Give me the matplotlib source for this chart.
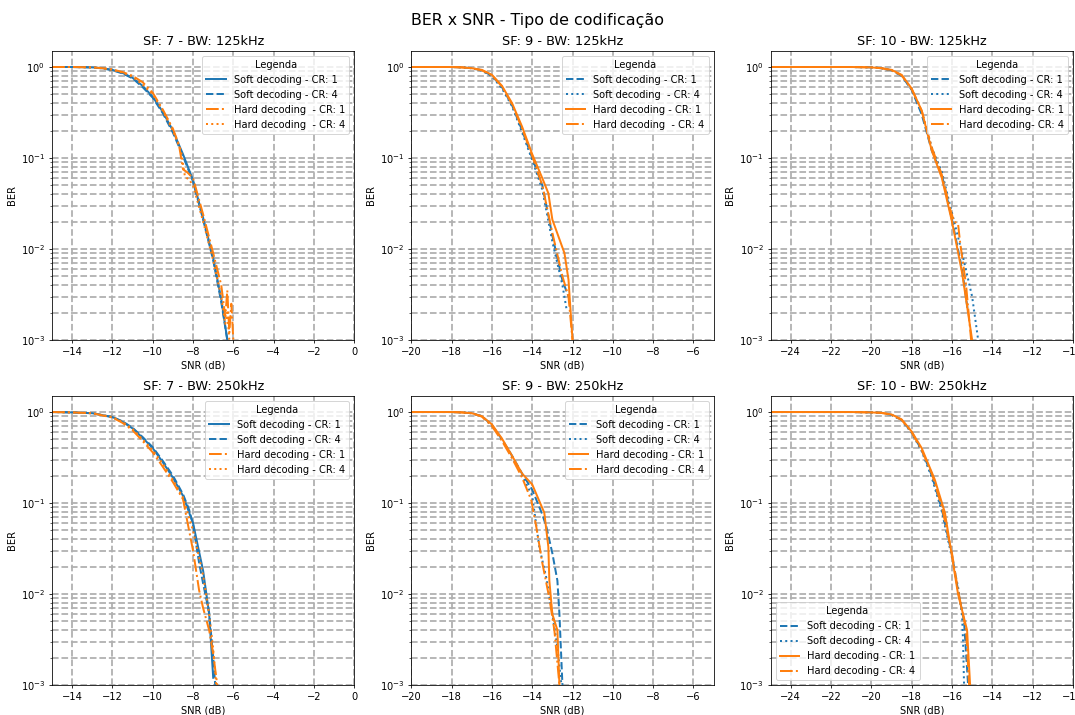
import numpy as np
import matplotlib.pyplot as plt

# ---- SF7 / 125 kHz ----
snr_7_125_s1 = [-15, -14, -13, -12.5, -12, -11.5, -11, -10.5, -10, -9.5, -9, -8.5, -8, -7.5, -7, -6.6, -6.3]
ber_7_125_s1 = [1.0, 1.0, 0.99, 0.97, 0.93, 0.86, 0.76, 0.62, 0.47, 0.32, 0.2, 0.11, 0.057, 0.022, 0.008, 0.0028, 0.001]
snr_7_125_s4 = [-15, -14, -13, -12.5, -12, -11.5, -11, -10.5, -10, -9.5, -9, -8.5, -8, -7.5, -7, -6.6, -6.3]
ber_7_125_s4 = [1.0, 1.0, 0.99, 0.965, 0.92, 0.85, 0.75, 0.6, 0.46, 0.31, 0.19, 0.105, 0.055, 0.021, 0.0075, 0.0026, 0.001]
snr_7_125_h1 = [-15, -14, -13, -12.5, -12, -11.5, -11, -10.5, -10, -9.5, -9, -8.7, -8.5, -8.3, -8, -7.5, -7, -6.6, -6.4, -6.3, -6.2, -6.1, -6.0]
ber_7_125_h1 = [1.0, 1.0, 0.99, 0.97, 0.94, 0.88, 0.8, 0.68, 0.52, 0.34, 0.21, 0.14, 0.075, 0.07, 0.06, 0.024, 0.009, 0.004, 0.0018, 0.0035, 0.0012, 0.0025, 0.001]
snr_7_125_h4 = [-15, -14, -13, -12.5, -12, -11.5, -11, -10.5, -10, -9.5, -9, -8.6, -8.4, -8.2, -8, -7.5, -7, -6.6, -6.4, -6.3, -6.2]
ber_7_125_h4 = [1.0, 1.0, 0.99, 0.97, 0.93, 0.87, 0.78, 0.64, 0.5, 0.33, 0.2, 0.12, 0.062, 0.058, 0.05, 0.02, 0.0075, 0.003, 0.0015, 0.002, 0.001]

# ---- SF9 / 125 kHz ----
snr_9_125_s1 = [-20, -19, -18, -17.5, -17, -16.5, -16, -15.5, -15, -14.5, -14, -13.5, -13, -12.5, -12.2]
ber_9_125_s1 = [1.0, 1.0, 1.0, 0.99, 0.97, 0.92, 0.8, 0.6, 0.38, 0.2, 0.1, 0.05, 0.014, 0.0045, 0.003]
snr_9_125_s4 = [-20, -19, -18, -17.5, -17, -16.5, -16, -15.5, -15, -14.5, -14, -13.5, -13, -12.5, -12.3]
ber_9_125_s4 = [1.0, 1.0, 1.0, 0.99, 0.97, 0.91, 0.79, 0.58, 0.37, 0.19, 0.095, 0.045, 0.012, 0.004, 0.0022]
snr_9_125_h1 = [-20, -19, -18, -17.5, -17, -16.5, -16, -15.5, -15, -14.5, -14, -13.5, -13.2, -13, -12.4, -12.2, -12]
ber_9_125_h1 = [1.0, 1.0, 1.0, 0.99, 0.97, 0.93, 0.82, 0.62, 0.4, 0.22, 0.11, 0.06, 0.041, 0.021, 0.009, 0.0046, 0.001]
snr_9_125_h4 = [-20, -19, -18, -17.5, -17, -16.5, -16, -15.5, -15, -14.5, -14, -13.5, -13, -12.5, -12.2, -12]
ber_9_125_h4 = [1.0, 1.0, 1.0, 0.99, 0.97, 0.92, 0.81, 0.61, 0.39, 0.21, 0.105, 0.05, 0.015, 0.005, 0.003, 0.001]

# ---- SF10 / 125 kHz ----
snr_10_125_s1 = [-25, -23, -21, -20, -19.5, -19, -18.5, -18, -17.5, -17, -16.5, -16, -15.5, -15.2]
ber_10_125_s1 = [1.0, 1.0, 1.0, 0.99, 0.97, 0.92, 0.8, 0.56, 0.3, 0.12, 0.065, 0.021, 0.006, 0.002]
snr_10_125_s4 = [-25, -23, -21, -20, -19.5, -19, -18.5, -18, -17.5, -17, -16.5, -16, -15.5, -15, -14.7]
ber_10_125_s4 = [1.0, 1.0, 1.0, 0.99, 0.97, 0.92, 0.8, 0.57, 0.32, 0.13, 0.07, 0.025, 0.009, 0.003, 0.001]
snr_10_125_h1 = [-25, -23, -21, -20, -19.5, -19, -18.5, -18, -17.5, -17, -16.5, -16, -15.5, -15]
ber_10_125_h1 = [1.0, 1.0, 1.0, 0.99, 0.97, 0.93, 0.82, 0.58, 0.33, 0.12, 0.06, 0.02, 0.0055, 0.001]
snr_10_125_h4 = [-25, -23, -21, -20, -19.5, -19, -18.5, -18, -17.5, -17, -16.5, -16.1, -15.9, -15.7, -15.6, -15.3, -15.05]
ber_10_125_h4 = [1.0, 1.0, 1.0, 0.99, 0.97, 0.92, 0.81, 0.57, 0.33, 0.13, 0.065, 0.028, 0.02, 0.019, 0.012, 0.004, 0.001]

# ---- SF7 / 250 kHz ----
snr_7_250_s1 = [-15, -14, -13, -12, -11.5, -11, -10.5, -10, -9.5, -9, -8.5, -8, -7.5, -7.2, -7]
ber_7_250_s1 = [1.0, 0.99, 0.97, 0.88, 0.78, 0.66, 0.52, 0.4, 0.28, 0.19, 0.12, 0.06, 0.018, 0.006, 0.0012]
snr_7_250_s4 = [-15, -14, -13, -12, -11.5, -11, -10.5, -10, -9.5, -9, -8.5, -8.2, -8, -7.7, -7.5, -7.2, -7, -6.9]
ber_7_250_s4 = [1.0, 0.99, 0.97, 0.88, 0.79, 0.67, 0.53, 0.41, 0.29, 0.2, 0.125, 0.085, 0.058, 0.022, 0.013, 0.0062, 0.002, 0.001]
snr_7_250_h1 = [-15, -14, -13, -12, -11.5, -11, -10.5, -10, -9.5, -9, -8.5, -8, -7.7, -7.5, -7.2, -7, -6.8]
ber_7_250_h1 = [1.0, 0.99, 0.97, 0.87, 0.76, 0.63, 0.48, 0.36, 0.25, 0.17, 0.11, 0.03, 0.011, 0.007, 0.004, 0.0022, 0.001]
snr_7_250_h4 = [-15, -14, -13, -12, -11.5, -11, -10.5, -10, -9.5, -9, -8.5, -8, -7.5, -7.2, -7, -6.85]
ber_7_250_h4 = [1.0, 0.99, 0.97, 0.88, 0.78, 0.65, 0.5, 0.38, 0.27, 0.18, 0.115, 0.05, 0.016, 0.006, 0.0025, 0.001]

# ---- SF9 / 250 kHz ----
snr_9_250_s1 = [-20, -19, -18, -17.5, -17, -16.5, -16, -15.5, -15, -14.5, -14, -13.5, -13.3, -13, -12.75, -12.65, -12.5]
ber_9_250_s1 = [1.0, 1.0, 1.0, 0.99, 0.97, 0.9, 0.72, 0.5, 0.33, 0.21, 0.14, 0.075, 0.055, 0.028, 0.014, 0.006, 0.001]
snr_9_250_s4 = [-20, -19, -18, -17.5, -17, -16.5, -16, -15.5, -15, -14.5, -14, -13.65, -13.3, -13, -12.75, -12.55]
ber_9_250_s4 = [1.0, 1.0, 1.0, 0.99, 0.97, 0.9, 0.71, 0.5, 0.32, 0.2, 0.12, 0.033, 0.015, 0.006, 0.0026, 0.001]
snr_9_250_h1 = [-20, -19, -18, -17.5, -17, -16.5, -16, -15.5, -15, -14.5, -14, -13.4, -13.2, -13.15, -13, -12.75, -12.65]
ber_9_250_h1 = [1.0, 1.0, 1.0, 0.99, 0.97, 0.9, 0.73, 0.51, 0.33, 0.21, 0.16, 0.078, 0.033, 0.014, 0.006, 0.004, 0.001]
snr_9_250_h4 = [-20, -19, -18, -17.5, -17, -16.5, -16, -15.5, -15, -14.5, -14.05, -13.8, -13.5, -13.15, -12.9, -12.65]
ber_9_250_h4 = [1.0, 1.0, 1.0, 0.99, 0.97, 0.89, 0.7, 0.48, 0.31, 0.19, 0.108, 0.055, 0.022, 0.009, 0.004, 0.001]

# ---- SF10 / 250 kHz ----
snr_10_250_s1 = [-25, -23, -21, -20, -19.5, -19, -18.5, -18, -17.5, -17, -16.5, -16, -15.7, -15.4, -15.2]
ber_10_250_s1 = [1.0, 1.0, 1.0, 0.99, 0.98, 0.93, 0.82, 0.6, 0.38, 0.2, 0.085, 0.027, 0.011, 0.005, 0.001]
snr_10_250_s4 = [-25, -23, -21, -20, -19.5, -19, -18.5, -18, -17.5, -17, -16.5, -16, -15.7, -15.5, -15.45, -15.4]
ber_10_250_s4 = [1.0, 1.0, 1.0, 0.99, 0.98, 0.93, 0.81, 0.59, 0.37, 0.19, 0.08, 0.025, 0.012, 0.006, 0.003, 0.001]
snr_10_250_h1 = [-25, -23, -21, -20, -19.5, -19, -18.5, -18, -17.5, -16.85, -16.35, -16, -15.7, -15.25, -15.1]
ber_10_250_h1 = [1.0, 1.0, 1.0, 0.99, 0.98, 0.94, 0.83, 0.61, 0.4, 0.18, 0.078, 0.026, 0.01, 0.004, 0.001]
snr_10_250_h4 = [-25, -23, -21, -20, -19.5, -19, -18.5, -18, -17.5, -17, -16.5, -16, -15.7, -15.3, -15.15]
ber_10_250_h4 = [1.0, 1.0, 1.0, 0.99, 0.98, 0.93, 0.82, 0.6, 0.38, 0.21, 0.09, 0.028, 0.011, 0.004, 0.001]

titles = ['SF: 7 - BW: 125kHz', 'SF: 9 - BW: 125kHz', 'SF: 10 - BW: 125kHz',
          'SF: 7 - BW: 250kHz', 'SF: 9 - BW: 250kHz', 'SF: 10 - BW: 250kHz']
xlims = [(-15, 0), (-20, -5), (-25, -10), (-15, 0), (-20, -5), (-25, -10)]
xticks_col = [np.arange(-14, 1, 2), np.arange(-20, -5, 2), np.arange(-24, -9, 2)]

labels_a = ['Soft decoding - CR: 1', 'Soft decoding - CR: 4', 'Hard decoding  - CR: 1', 'Hard decoding  - CR: 4']
labels_b = ['Soft decoding - CR: 1', 'Soft decoding  - CR: 4', 'Hard decoding - CR: 1', 'Hard decoding  - CR: 4']
labels_c = ['Soft decoding - CR: 1', 'Soft decoding - CR: 4', 'Hard decoding- CR: 1', 'Hard decoding- CR: 4']
labels_d = ['Soft decoding - CR: 1', 'Soft decoding - CR: 4', 'Hard decoding - CR: 1', 'Hard decoding - CR: 4']

series = [
    [(snr_7_125_s1, ber_7_125_s1), (snr_7_125_s4, ber_7_125_s4), (snr_7_125_h1, ber_7_125_h1), (snr_7_125_h4, ber_7_125_h4)],
    [(snr_9_125_s1, ber_9_125_s1), (snr_9_125_s4, ber_9_125_s4), (snr_9_125_h1, ber_9_125_h1), (snr_9_125_h4, ber_9_125_h4)],
    [(snr_10_125_s1, ber_10_125_s1), (snr_10_125_s4, ber_10_125_s4), (snr_10_125_h1, ber_10_125_h1), (snr_10_125_h4, ber_10_125_h4)],
    [(snr_7_250_s1, ber_7_250_s1), (snr_7_250_s4, ber_7_250_s4), (snr_7_250_h1, ber_7_250_h1), (snr_7_250_h4, ber_7_250_h4)],
    [(snr_9_250_s1, ber_9_250_s1), (snr_9_250_s4, ber_9_250_s4), (snr_9_250_h1, ber_9_250_h1), (snr_9_250_h4, ber_9_250_h4)],
    [(snr_10_250_s1, ber_10_250_s1), (snr_10_250_s4, ber_10_250_s4), (snr_10_250_h1, ber_10_250_h1), (snr_10_250_h4, ber_10_250_h4)],
]
labels = [labels_a, labels_b, labels_c, labels_d, labels_d, labels_d]

# linestyles: SF7 panels differ from SF9/SF10 panels
styles_a = ['-', '--', '-.', ':']
styles_b = ['--', ':', '-', '-.']
styles = [styles_a, styles_b, styles_b, styles_a, styles_b, styles_b]
colors = ['#1f77b4', '#1f77b4', '#ff7f0e', '#ff7f0e']
leg_loc = ['upper right'] * 5 + ['lower left']

fig, axes = plt.subplots(2, 3, figsize=(1075 / 71.5, 10), dpi=71.5)
fig.subplots_adjust(left=0.0484, right=0.998, bottom=0.042, top=0.9287, wspace=0.189, hspace=0.194)
fig.suptitle('BER x SNR - Tipo de codificação', fontsize=16, y=0.982)

for i, ax in enumerate(axes.flat):
    for j in range(4):
        x, y = series[i][j]
        ax.semilogy(x, y, linestyle=styles[i][j], color=colors[j], linewidth=2, label=labels[i][j])
    ax.set_xlim(*xlims[i])
    ax.set_xticks(xticks_col[i % 3])
    ax.set_ylim(1e-3, 1.5)
    ax.grid(True, which='both', linestyle='--', linewidth=1.8, color='#b0b0b0')
    ax.set_title(titles[i], fontsize=13)
    ax.set_xlabel('SNR (dB)')
    ax.set_ylabel('BER')
    ax.legend(title='Legenda', loc=leg_loc[i])

fig.savefig('out.png', dpi=71.5)
